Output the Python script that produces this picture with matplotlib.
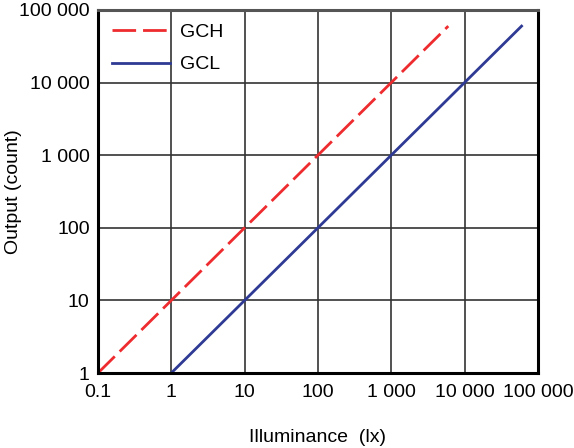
import numpy as np
import matplotlib
matplotlib.use('Agg')
import matplotlib.pyplot as plt

plt.rcParams['font.family'] = ['Liberation Sans', 'DejaVu Sans']

# data
gch_x = [0.1, 6000]
gch_y = [1, 60000]
gcl_x = [1, 60000]
gcl_y = [1, 60000]

x_ticks = [0.1, 1, 10, 100, 1000, 10000, 100000]
x_labels = ['0.1', '1', '10', '100', '1 000', '10 000', '100 000']
y_ticks = [1, 10, 100, 1000, 10000, 100000]
y_labels = ['1', '10', '100', '1 000', '10 000', '100 000']

fig = plt.figure(figsize=(5.74, 4.48), dpi=100)
ax = fig.add_axes([0.1707, 0.1674, 0.7663, 0.8103])

ax.plot(gch_x, gch_y, color='#ee2b2e', lw=2, dashes=(8.5, 2.5), label='GCH', solid_capstyle='butt')
ax.plot(gcl_x, gcl_y, color='#2e3a94', lw=2, label='GCL')

ax.set_xscale('log')
ax.set_yscale('log')
ax.set_xlim(0.1, 100000)
ax.set_ylim(1, 100000)

ax.set_xticks(x_ticks)
ax.set_xticklabels(x_labels)
ax.set_yticks(y_ticks)
ax.set_yticklabels(y_labels)
ax.minorticks_off()
ax.tick_params(length=0, labelsize=14, pad=6)
ax.tick_params(axis='x', pad=8)

ax.grid(True, color='#333333', lw=1.2)
for s in ax.spines.values():
    s.set_linewidth(2.2)
    s.set_color('black')
ax.spines['top'].set_color('#555555')

ax.set_xlabel('Illuminance  (lx)', fontsize=14, labelpad=20)
ax.set_ylabel('Output (count)', fontsize=14)
ax.yaxis.set_label_coords(-0.172, 0.5)

leg = ax.legend(loc='upper left', frameon=False, fontsize=14, handlelength=3.0,
                handletextpad=0.5, labelspacing=0.75, borderaxespad=0.3)

fig.savefig('out.png', dpi=100)
